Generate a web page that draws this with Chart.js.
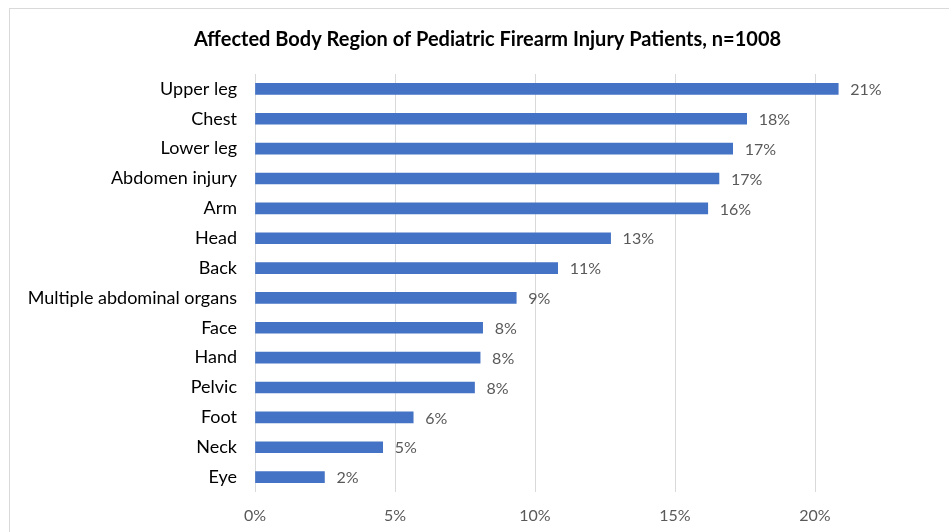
<!DOCTYPE html>
<html>
<head>
<meta charset="utf-8">
<script src="https://cdn.jsdelivr.net/npm/chart.js@4/dist/chart.umd.min.js"></script>
<style>
  html, body { margin: 0; padding: 0; background: #fff; overflow: hidden; }
  #frame { position: absolute; left: 9px; top: 8px; width: 1100px; height: 700px; border: 1px solid #d9d9d9; }
  #wrap { position: absolute; left: 0; top: 0; width: 985px; height: 545px; }
</style>
</head>
<body>
<div id="frame"></div>
<div id="wrap"><canvas id="chart"></canvas></div>
<script>
    // Body regions, top to bottom
    const regions = ['Upper leg', 'Chest', 'Lower leg', 'Abdomen injury', 'Arm', 'Head', 'Back',
        'Multiple abdominal organs', 'Face', 'Hand', 'Pelvic', 'Foot', 'Neck', 'Eye'];
    // Share of patients, %
    const shares = [20.83, 17.56, 17.06, 16.57, 16.17, 12.70, 10.81, 9.33, 8.13, 8.04, 7.84, 5.65, 4.56, 2.48];
    const xTicks = [0, 5, 10, 15, 20];

    const fontFam = 'Lato, "Liberation Sans", sans-serif';

    // draws the % label right of each bar
    const barLabels = {
        id: 'barLabels',
        afterDatasetsDraw(chart) {
            const ctx = chart.ctx;
            const meta = chart.getDatasetMeta(0);
            ctx.save();
            ctx.font = '16px ' + fontFam;
            ctx.fillStyle = '#595959';
            ctx.textAlign = 'left';
            ctx.textBaseline = 'middle';
            meta.data.forEach((bar, i) => {
                ctx.fillText(Math.round(shares[i]) + '%', bar.x + 12, bar.y + 1);
            });
            ctx.restore();
        }
    };

    new Chart(document.getElementById('chart'), {
        type: 'bar',
        data: {
            labels: regions,
            datasets: [{
                data: shares,
                backgroundColor: '#4472c4',
                barThickness: 11
            }]
        },
        options: {
            indexAxis: 'y',
            responsive: true,
            maintainAspectRatio: false,
            animation: false,
            layout: { padding: { top: 0, right: 30, bottom: 0, left: 20 } },
            plugins: {
                legend: { display: false },
                tooltip: { enabled: false },
                title: {
                    display: true,
                    text: 'Affected Body Region of Pediatric Firearm Injury Patients, n=1008',
                    color: '#000',
                    font: { family: fontFam, size: 20, weight: 'bold' },
                    padding: { top: 28, bottom: 22 }
                }
            },
            scales: {
                x: {
                    min: 0,
                    max: 25,
                    afterBuildTicks(scale) { scale.ticks = xTicks.map(v => ({ value: v })); },
                    afterFit(scale) { scale.height = 53; },
                    grid: { color: '#d9d9d9', drawTicks: false },
                    border: { display: false },
                    ticks: {
                        color: '#595959',
                        padding: 14,
                        font: { family: fontFam, size: 16 },
                        callback: v => v + '%'
                    }
                },
                y: {
                    afterFit(scale) { scale.width = 235; },
                    grid: { display: false, drawTicks: false },
                    border: { display: false },
                    ticks: {
                        color: '#000',
                        padding: 18,
                        font: { family: fontFam, size: 18 }
                    }
                }
            }
        },
        plugins: [barLabels]
    });
</script>
</body>
</html>
